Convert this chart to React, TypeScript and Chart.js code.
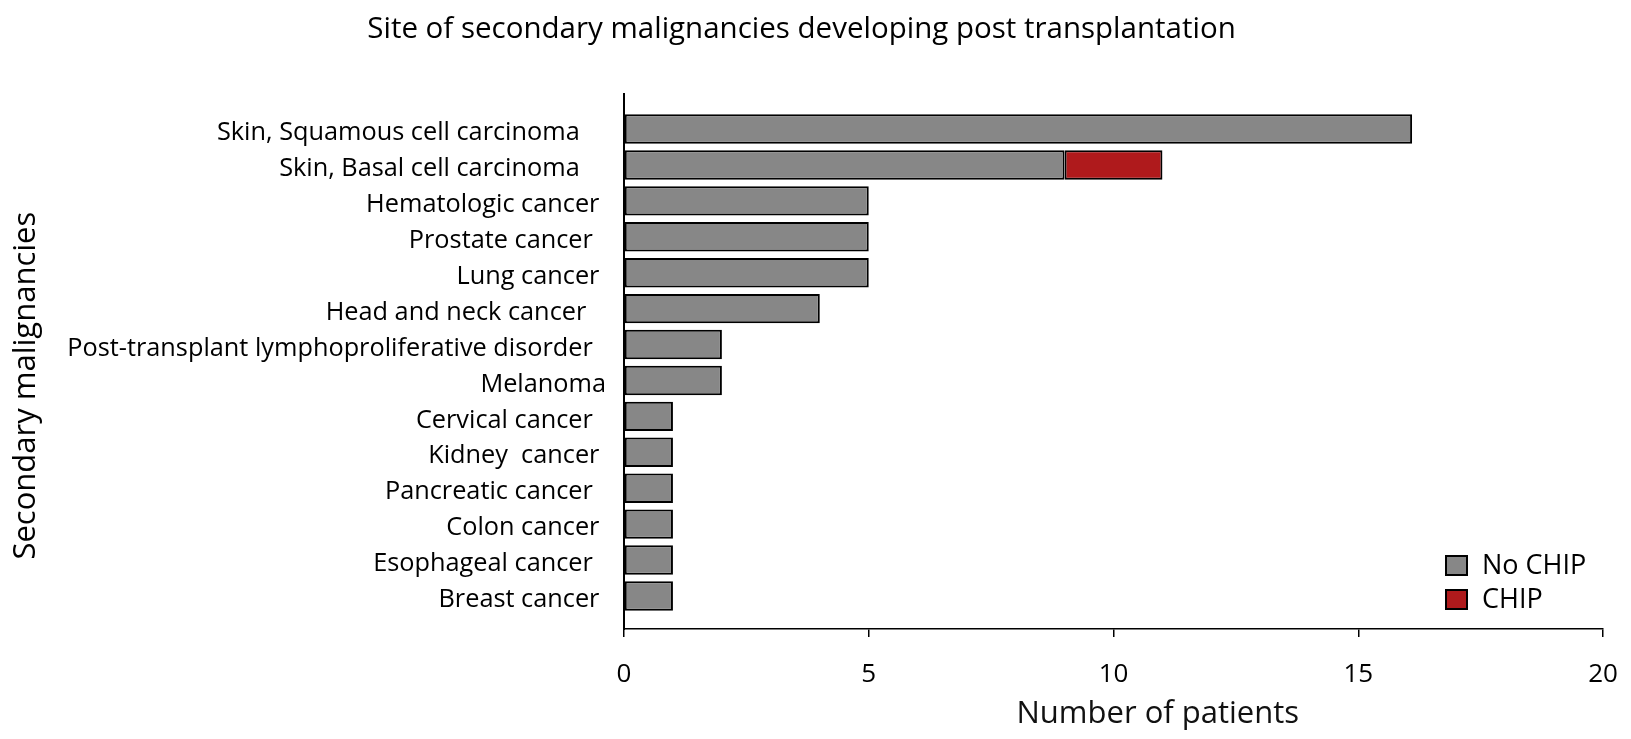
import { useEffect, useRef } from 'react';
import { Chart, registerables } from 'chart.js';

Chart.register(...registerables);

const FONT = '"Open Sans", "Noto Sans", sans-serif';

const chartTitle = 'Site of secondary malignancies developing post transplantation';
const xTitle = '           Number of patients';
const yTitle = 'Secondary malignancies      ';

const categories = [
  'Skin, Squamous cell carcinoma    ',
  'Skin, Basal cell carcinoma    ',
  'Hematologic cancer ',
  'Prostate cancer  ',
  'Lung cancer ',
  'Head and neck cancer   ',
  'Post-transplant lymphoproliferative disorder  ',
  'Melanoma',
  'Cervical cancer  ',
  'Kidney  cancer ',
  'Pancreatic cancer  ',
  'Colon cancer ',
  'Esophageal cancer  ',
  'Breast cancer ',
];

const noChip = [16.1, 9, 5, 5, 5, 4, 2, 2, 1, 1, 1, 1, 1, 1];
const chip = [0, 2, 0, 0, 0, 0, 0, 0, 0, 0, 0, 0, 0, 0];

const seriesLabels = ['No CHIP', 'CHIP'];
const seriesColors = ['#878787', '#AF1A1C'];

const xTicks = [0, 5, 10, 15, 20];

const legendPlugin = {
  id: 'cornerLegend',
  afterDraw(chart: any) {
    const { ctx, chartArea } = chart;
    const x0 = chartArea.right - 157;
    const y0 = chartArea.bottom - 73;
    ctx.save();
    chart.data.datasets.forEach((ds: any, i: number) => {
      const y = y0 + i * 34;
      ctx.fillStyle = ds.backgroundColor;
      ctx.fillRect(x0, y, 21, 19);
      ctx.strokeStyle = '#000';
      ctx.lineWidth = 2;
      ctx.strokeRect(x0, y, 21, 19);
      ctx.fillStyle = '#000';
      ctx.font = `27px ${FONT}`;
      ctx.textBaseline = 'middle';
      ctx.textAlign = 'left';
      ctx.fillText(ds.label, x0 + 36, y + 10);
    });
    ctx.restore();
  },
};

export default function App() {
  const ref = useRef<HTMLCanvasElement | null>(null);

  useEffect(() => {
    document.body.style.margin = '0';
    document.body.style.overflow = 'hidden';
    const canvas = ref.current;
    if (!canvas) return;
    const toPoints = (arr: number[]) =>
      arr.map((v, i) => ({ x: v === 0 ? null : v, y: i }));

    const common = {
      borderColor: '#000',
      borderWidth: 2,
      borderSkipped: false,
      barPercentage: 0.82,
      categoryPercentage: 1,
    };

    const chart = new Chart(canvas, {
      type: 'bar',
      data: {
        datasets: [
          {
            label: seriesLabels[0],
            data: toPoints(noChip) as any,
            backgroundColor: seriesColors[0],
            ...common,
          },
          {
            label: seriesLabels[1],
            data: toPoints(chip) as any,
            backgroundColor: seriesColors[1],
            ...common,
          },
        ] as any,
      },
      options: {
        indexAxis: 'y',
        animation: false,
        responsive: false,
        maintainAspectRatio: false,
        layout: { padding: { left: 0, right: 28, top: 0, bottom: 0 } },
        plugins: {
          legend: { display: false },
          tooltip: { enabled: false },
          title: {
            display: true,
            text: chartTitle,
            color: '#000',
            font: { family: FONT, size: 29.5, weight: 'normal' },
            padding: { top: 12, bottom: 46.6 },
          },
        },
        scales: {
          x: {
            type: 'linear',
            position: 'bottom',
            min: 0,
            max: 20,
            stacked: true,
            afterBuildTicks: (s: any) => {
              s.ticks = xTicks.map((v) => ({ value: v }));
            },
            afterFit: (s: any) => {
              s.height = 110;
              s.paddingLeft = 0;
              s.paddingRight = 0;
            },
            grid: {
              display: true,
              drawOnChartArea: false,
              drawTicks: true,
              tickLength: 8,
              color: '#000',
              lineWidth: 1.5,
            },
            border: { display: true, color: '#000', width: 1.5 },
            ticks: {
              color: '#000',
              font: { family: FONT, size: 26 },
              padding: 22,
              maxRotation: 0,
            },
            title: {
              display: true,
              text: xTitle,
              color: '#111',
              font: { family: FONT, size: 31, weight: 'normal' },
              padding: { top: 0, bottom: 6 },
            },
          },
          y: {
            type: 'linear',
            reverse: true,
            offset: false,
            min: -0.975,
            max: 13.92,
            stacked: true,
            afterBuildTicks: (s: any) => {
              s.ticks = categories.map((_, i) => ({ value: i }));
            },
            afterFit: (s: any) => {
              s.width = 624;
            },
            grid: { display: false, drawTicks: false, offset: false },
            border: { display: true, color: '#000', width: 2 },
            ticks: {
              autoSkip: false,
              color: '#000',
              font: { family: FONT, size: 25.3 },
              padding: 18,
              labelOffset: 4,
              callback: (_v: any, i: number) => categories[i],
            },
            title: {
              display: true,
              text: yTitle,
              color: '#000',
              font: { family: FONT, size: 31, weight: 'normal' },
              padding: { top: 8, bottom: 0 },
            },
          },
        },
      },
      plugins: [legendPlugin],
    });

    return () => chart.destroy();
  }, []);

  return (
    <div style={{ width: 1631, height: 739 }}>
      <canvas ref={ref} width={1631} height={739} />
    </div>
  );
}
